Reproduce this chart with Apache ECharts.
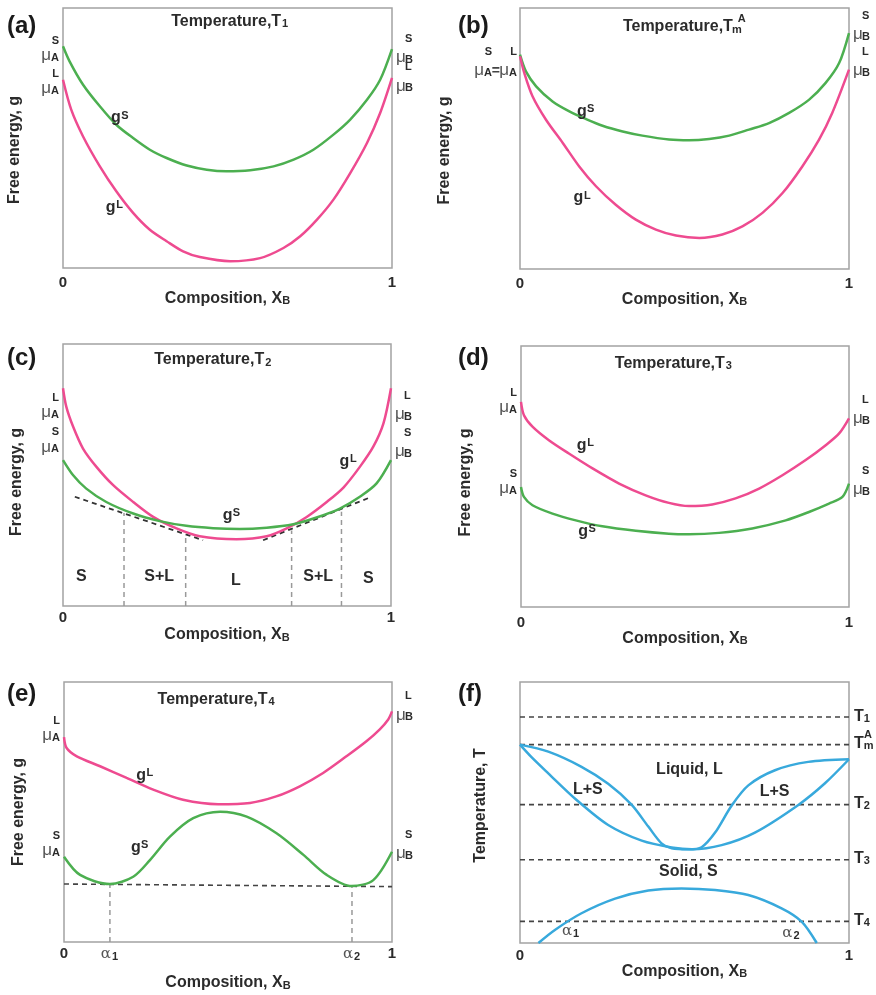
<!DOCTYPE html>
<html>
<head>
<meta charset="utf-8">
<script src="https://cdn.jsdelivr.net/npm/echarts@6/dist/echarts.min.js"></script>
<style>
html, body { margin: 0; padding: 0; background: #fff; }
#main { width: 876px; height: 995px; }
</style>
</head>
<body>
<div id="main"></div>
<script>
// x = composition X_B (0..1), y = relative free energy / temperature (0..100 of the box)

// (a) T1
var aSolidX = [0, 0.02, 0.061, 0.112, 0.162, 0.213, 0.264, 0.315, 0.376, 0.437, 0.497, 0.569, 0.64, 0.701, 0.761, 0.822, 0.873, 0.924, 0.964, 1];
var aSolidY = [85.3, 79.5, 70.5, 62.2, 55.1, 50, 45.5, 42.3, 39.4, 37.8, 37.2, 37.6, 39.1, 41.7, 45.5, 51.3, 57.1, 64.7, 72.4, 84.2];
var aLiqX = [0, 0.025, 0.061, 0.112, 0.162, 0.213, 0.264, 0.315, 0.365, 0.416, 0.508, 0.599, 0.67, 0.721, 0.772, 0.822, 0.873, 0.924, 0.964, 1];
var aLiqY = [72.4, 60.9, 50.6, 39.1, 29.5, 21.2, 14.7, 10.3, 6.4, 4.2, 2.6, 3.8, 7.7, 12.2, 18.6, 26.3, 36.5, 48.1, 59.6, 73.1];

// (b) Tm^A
var bSolidX = [0, 0.018, 0.049, 0.099, 0.15, 0.2, 0.251, 0.312, 0.372, 0.453, 0.514, 0.575, 0.636, 0.696, 0.757, 0.818, 0.879, 0.929, 0.97, 1];
var bSolidY = [82.1, 75.7, 70, 64.2, 60.4, 57.5, 54.9, 52.7, 51.1, 49.6, 49.3, 49.8, 51.1, 53.4, 55.9, 59.8, 64.9, 71.3, 78.9, 90.4];
var bLiqX = [0, 0.013, 0.038, 0.079, 0.13, 0.18, 0.231, 0.291, 0.352, 0.413, 0.474, 0.545, 0.615, 0.676, 0.737, 0.798, 0.858, 0.909, 0.949, 1];
var bLiqY = [81.5, 75.1, 66.2, 57.2, 48.3, 39.3, 31.7, 24.6, 18.9, 15.1, 12.8, 11.9, 13.2, 16.3, 21.5, 29.1, 39.3, 49.6, 59.8, 76.4];

// (c) T2
var cLiqX = [0, 0.01, 0.031, 0.061, 0.102, 0.153, 0.214, 0.275, 0.346, 0.417, 0.529, 0.621, 0.682, 0.743, 0.804, 0.855, 0.905, 0.946, 0.977, 1];
var cLiqY = [83.1, 76.1, 68.4, 60.1, 53.1, 46.1, 39.7, 34, 29.6, 26.6, 25.5, 26.6, 29.6, 34, 39.7, 45.2, 53.1, 60.8, 69.7, 83.1];
var cSolidX = [0, 0.031, 0.071, 0.132, 0.214, 0.295, 0.376, 0.458, 0.539, 0.621, 0.702, 0.773, 0.844, 0.905, 0.956, 1];
var cSolidY = [55.7, 49.9, 44.8, 39.7, 35.3, 32.4, 30.6, 29.7, 29.4, 29.9, 31.2, 33.8, 37.2, 41.7, 46.8, 55.7];
var cTangentLeft = [[0.036, 41.7], [0.427, 25.1]];
var cTangentRight = [[0.61, 25.1], [0.941, 41.7]];
var cCutX = [0.186, 0.374, 0.697, 0.849];
var cCutTop = [35.5, 27.4, 28.8, 36];

// (d) T3
var dLiqX = [0, 0.009, 0.035, 0.085, 0.146, 0.218, 0.299, 0.38, 0.451, 0.512, 0.583, 0.654, 0.726, 0.797, 0.868, 0.929, 0.97, 1];
var dLiqY = [78.6, 73.5, 69.1, 63.9, 58.8, 53.1, 47.3, 42.8, 39.9, 38.7, 39.3, 41.6, 45.4, 50.5, 56.3, 62, 66.5, 72.3];
var dSolidX = [0, 0.009, 0.035, 0.096, 0.167, 0.248, 0.35, 0.451, 0.512, 0.604, 0.705, 0.807, 0.878, 0.939, 0.98, 1];
var dSolidY = [46, 42.2, 39, 35.8, 33.2, 30.9, 29.2, 28.1, 27.9, 28.4, 30.1, 33.2, 36.4, 39.6, 42.2, 47.3];

// (e) T4
var eLiqX = [0, 0.008, 0.039, 0.11, 0.191, 0.272, 0.363, 0.47, 0.567, 0.647, 0.719, 0.79, 0.861, 0.922, 0.962, 0.988, 1];
var eLiqY = [78.8, 74.6, 71.4, 67.6, 63.1, 58.6, 54.7, 53, 53.5, 56, 59.9, 65, 71.4, 77.2, 81.7, 85.5, 88.7];
var eSolidX = [0, 0.049, 0.14, 0.211, 0.262, 0.323, 0.394, 0.476, 0.557, 0.648, 0.73, 0.801, 0.877, 0.943, 1];
var eSolidY = [32.8, 25.8, 22.3, 25.1, 31.5, 40.5, 47.6, 50.1, 48.2, 41.8, 33.5, 25.8, 21.5, 23.8, 34.7];
var eTangent = [[0, 22.3], [1, 21.3]];
var eCutX = [0.14, 0.878];
var eCutTop = [22.2, 21.4];
var eTickValues = [0, 0.14, 0.878, 1];
var eTickLabels = ['0', '{al|α}{sub|1}', '{al|α}{sub|2}', '1'];

// (f) phase diagram
var fLiquidusX = [0, 0.086, 0.187, 0.268, 0.339, 0.39, 0.43, 0.461, 0.512, 0.552, 0.593, 0.643, 0.694, 0.775, 0.876, 1];
var fLiquidusY = [76, 73.3, 67.5, 61, 53, 44.6, 38.2, 36.3, 35.9, 36.7, 42.3, 52.6, 60.4, 66.2, 69.4, 70.4];
var fSolidusX = [0, 0.035, 0.086, 0.172, 0.268, 0.37, 0.461, 0.522, 0.613, 0.714, 0.846, 0.927, 1];
var fSolidusY = [76, 71.2, 65, 54.8, 45.2, 39.2, 36.6, 35.9, 37.5, 42.3, 52.9, 61.2, 70.4];
var fDomeX = [0.056, 0.106, 0.187, 0.289, 0.39, 0.491, 0.593, 0.694, 0.795, 0.856, 0.902];
var fDomeY = [0, 5, 11.4, 17, 20.1, 20.9, 20.3, 18.4, 13.3, 8.2, 0];
var fLevelNames = ['T{sub|1}', 'T{sub|m}', 'T{sub|2}', 'T{sub|3}', 'T{sub|4}'];
var fLevels = [86.6, 76, 53, 31.9, 8.3];

var GREEN = '#4caf50', PINK = '#ee4b90', BLUE = '#38a9dc', TXT = '#2b2b2b';
var FONT = '"Liberation Sans", Arial, sans-serif';

var rich = {
  sub: { fontSize: 11, fontWeight: 'bold', verticalAlign: 'bottom', lineHeight: 16, width: 8, color: TXT, fontFamily: FONT },
  sup: { fontSize: 11, fontWeight: 'bold', verticalAlign: 'top', lineHeight: 12, width: 8, color: TXT, fontFamily: FONT },
  mu: { fontSize: 17, fontWeight: 'normal', color: '#555', width: 9, lineHeight: 16, fontFamily: FONT },
  eq: { fontSize: 14, fontWeight: 'bold', color: '#444', width: 8, lineHeight: 16, fontFamily: FONT },
  msp: { width: 9 },
  gap: { width: 17 },
  al: { fontSize: 15, fontFamily: '"DejaVu Serif", serif', color: '#555', fontWeight: 'normal' }
};

var boxes = [
  { left: 63, top: 8, width: 329, height: 260 },
  { left: 520, top: 8, width: 329, height: 261 },
  { left: 63, top: 344, width: 328, height: 262 },
  { left: 521, top: 346, width: 328, height: 261 },
  { left: 64, top: 682, width: 328, height: 260 },
  { left: 520, top: 682, width: 329, height: 261 }
];
var xNameGap = [21, 16, 21, 15, 33, 14];
var xLabelMargin = [7, 7, 4, 8, 4, 5];
var yNameGap = [40, 67, 38, 47, 37, 31];
var yNamePad = [[0, 24, 0, 0], [0, 24, 0, 0], [0, 14, 0, 0], [0, 12, 0, 0], [0, 0, 0, 0], [0, 0, 0, 14]];

function zip(xs, ys) {
  return xs.map(function (x, i) { return [x, ys[i]]; });
}

var series = [];
function curve(g, xs, ys, color) {
  series.push({
    type: 'line', xAxisIndex: g, yAxisIndex: g, data: zip(xs, ys),
    smooth: 0.3, symbol: 'none', silent: true, z: 3,
    lineStyle: { color: color, width: 2.5 }
  });
}
function dashed(g, pts, color, width) {
  series.push({
    type: 'line', xAxisIndex: g, yAxisIndex: g, data: pts,
    symbol: 'none', silent: true, z: 2,
    lineStyle: { color: color, width: width || 1.5, type: [5, 4] }
  });
}
function notes(g, items) {
  series.push({
    type: 'scatter', xAxisIndex: g, yAxisIndex: g, symbolSize: 0, clip: false, silent: true, z: 5,
    itemStyle: { color: '#000', opacity: 1 },
    label: { show: true, position: 'inside', color: TXT, opacity: 1, textBorderWidth: 0, fontFamily: FONT, fontSize: 16, fontWeight: 'bold', verticalAlign: 'middle', rich: rich },
    data: items.map(function (n) {
      var pos = n[3] || 'inside';
      var lab = { formatter: n[2], position: pos };
      if (pos === 'left') { lab.align = 'right'; lab.distance = n[4] == null ? 4 : n[4]; }
      if (pos === 'right') { lab.align = 'left'; lab.distance = n[4] == null ? 4 : n[4]; }
      return { value: [n[0], n[1]], label: lab };
    })
  });
}
function muL(ph, el) { return '{sup|' + ph + '}\n{mu|μ}{sub|' + el + '}'; }
function muR(ph, el) { return '{msp|}{sup|' + ph + '}\n{mu|μ}{sub|' + el + '}'; }

// (a)
curve(0, aSolidX, aSolidY, GREEN);
curve(0, aLiqX, aLiqY, PINK);
notes(0, [
  [0.508, 94.9, 'Temperature,T{sub|1}'],
  [0, 84, muL('S', 'A'), 'left'], [0, 71.4, muL('L', 'A'), 'left'],
  [1, 84, muR('S', 'B'), 'right'], [1, 73.1, muR('L', 'B'), 'right'],
  [0.173, 57.7, 'g{sup|S}'], [0.157, 23.1, 'g{sup|L}']
]);

// (b)
curve(1, bSolidX, bSolidY, GREEN);
curve(1, bLiqX, bLiqY, PINK);
notes(1, [
  [0.492, 92.7, 'Temperature,T{sub|m}'],
  [0.674, 95.6, '{sup|A}'],
  [0, 79, '{sup|S}{gap|}{sup|L}\n{mu|μ}{sub|A}{eq|=}{mu|μ}{sub|A}', 'left', 3],
  [1, 93, muR('S', 'B'), 'right'], [1, 79, muR('L', 'B'), 'right'],
  [0.2, 60.4, 'g{sup|S}'], [0.19, 27.2, 'g{sup|L}']
]);

// (c)
curve(2, cLiqX, cLiqY, PINK);
curve(2, cSolidX, cSolidY, GREEN);
dashed(2, cTangentLeft, '#333', 1.8);
dashed(2, cTangentRight, '#333', 1.8);
cCutX.forEach(function (x, i) { dashed(2, [[x, 0], [x, cCutTop[i]]], '#999', 1.5); });
notes(2, [
  [0.458, 93.9, 'Temperature,T{sub|2}'],
  [0, 76.3, muL('L', 'A'), 'left'], [0, 63, muL('S', 'A'), 'left'],
  [1, 76.3, muR('L', 'B'), 'right'], [1, 62.2, muR('S', 'B'), 'right'],
  [0.514, 34.6, 'g{sup|S}'], [0.87, 55, 'g{sup|L}'],
  [0.056, 11.1, 'S'], [0.293, 11.1, 'S+L'], [0.527, 9.8, 'L'], [0.778, 11.1, 'S+L'], [0.931, 10.4, 'S']
]);

// (d)
curve(3, dLiqX, dLiqY, PINK);
curve(3, dSolidX, dSolidY, GREEN);
notes(3, [
  [0.466, 93.4, 'Temperature,T{sub|3}'],
  [0, 78.9, muL('L', 'A'), 'left'], [0, 47.6, muL('S', 'A'), 'left'],
  [1, 75.4, muR('L', 'B'), 'right'], [1, 48.1, muR('S', 'B'), 'right'],
  [0.197, 62, 'g{sup|L}'], [0.202, 28.8, 'g{sup|S}']
]);

// (e)
curve(4, eLiqX, eLiqY, PINK);
curve(4, eSolidX, eSolidY, GREEN);
dashed(4, eTangent, '#444', 1.6);
eCutX.forEach(function (x, i) { dashed(4, [[x, 0], [x, eCutTop[i]]], '#999', 1.5); });
notes(4, [
  [0.465, 93.2, 'Temperature,T{sub|4}'],
  [0, 81.7, muL('L', 'A'), 'left'], [0, 37.4, muL('S', 'A'), 'left'],
  [1, 90.4, muR('L', 'B'), 'right'], [1, 37.3, muR('S', 'B'), 'right'],
  [0.247, 64, 'g{sup|L}'], [0.231, 36.2, 'g{sup|S}']
]);

// (f)
fLevels.forEach(function (t) { dashed(5, [[0, t], [1, t]], '#444', 1.6); });
curve(5, fLiquidusX, fLiquidusY, BLUE);
curve(5, fSolidusX, fSolidusY, BLUE);
curve(5, fDomeX, fDomeY, BLUE);
notes(5, fLevels.map(function (t, i) {
  return [1, t + 0.3, fLevelNames[i], 'right', 5];
}).concat([
  [1.058, 79.7, '{sup|A}'],
  [0.515, 66.4, 'Liquid, L'], [0.206, 58.7, 'L+S'], [0.774, 58.1, 'L+S'],
  [0.512, 27.5, 'Solid, S'],
  [0.155, 4.5, '{al|α}{sub|1}'], [0.825, 3.8, '{al|α}{sub|2}']
]));

var nameStyle = { fontSize: 16, fontWeight: 'bold', color: TXT, fontFamily: FONT, rich: rich };

var option = {
  animation: false,
  backgroundColor: '#fff',
  title: ['(a)', '(b)', '(c)', '(d)', '(e)', '(f)'].map(function (t, i) {
    return {
      text: t, left: i % 2 === 0 ? 2 : 453, top: [9, 9, 341, 341, 677, 677][i],
      textStyle: { fontSize: 24, fontWeight: 'bold', color: '#1a1a1a', fontFamily: FONT }
    };
  }),
  grid: boxes.map(function (b) {
    return { left: b.left, top: b.top, width: b.width, height: b.height, show: true, borderColor: '#a3a3a3', borderWidth: 1.5, backgroundColor: 'transparent' };
  }),
  xAxis: boxes.map(function (b, i) {
    var ax = {
      gridIndex: i, type: 'value', min: 0, max: 1, interval: 1,
      axisLine: { show: false }, axisTick: { show: false }, splitLine: { show: false },
      axisLabel: { margin: xLabelMargin[i], fontSize: 15, fontWeight: 'bold', color: TXT, fontFamily: FONT, rich: rich },
      name: 'Composition, X{sub|B}', nameLocation: 'middle', nameGap: xNameGap[i], nameTextStyle: nameStyle
    };
    if (i === 4) {
      ax.axisLabel.customValues = eTickValues;
      ax.axisLabel.formatter = function (v) {
        var k = eTickValues.indexOf(v);
        return k >= 0 ? eTickLabels[k] : '';
      };
    }
    return ax;
  }),
  yAxis: boxes.map(function (b, i) {
    return {
      gridIndex: i, type: 'value', min: 0, max: 100,
      axisLine: { show: false }, axisTick: { show: false }, splitLine: { show: false }, axisLabel: { show: false },
      name: i === 5 ? 'Temperature, T' : 'Free energy, g', nameLocation: 'middle', nameRotate: 90, nameGap: yNameGap[i],
      nameTextStyle: { fontSize: 16, fontWeight: 'bold', color: TXT, fontFamily: FONT, padding: yNamePad[i] }
    };
  }),
  series: series
};

var chart = echarts.init(document.getElementById('main'));
chart.setOption(option);
</script>
</body>
</html>
